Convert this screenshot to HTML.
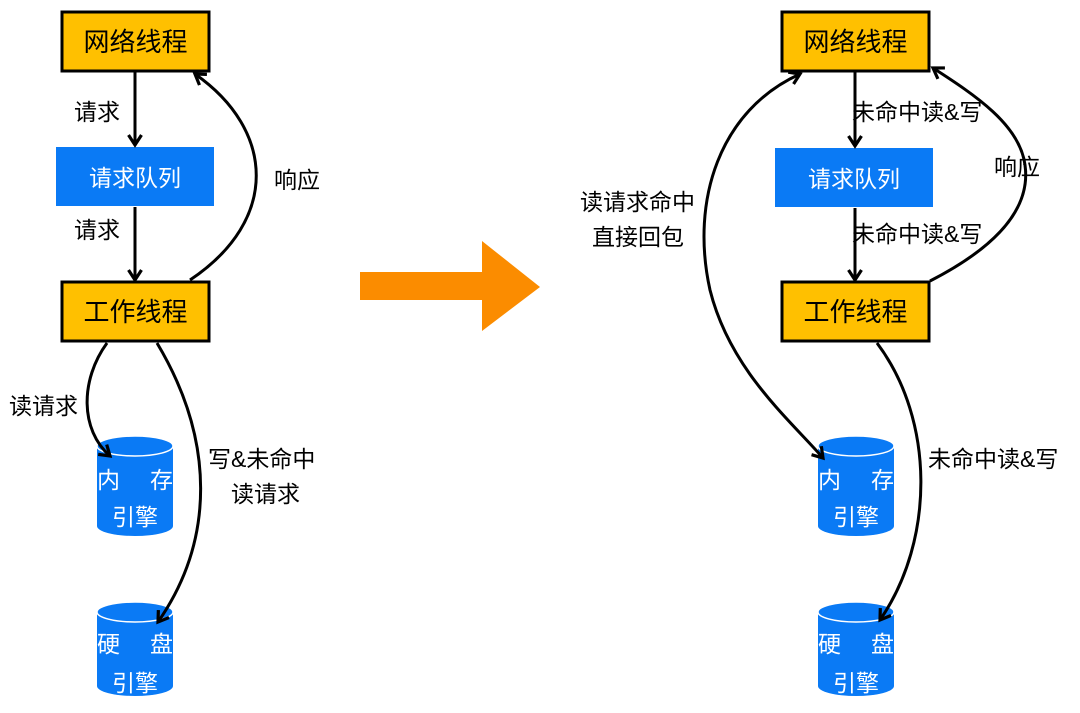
<!DOCTYPE html>
<html><head><meta charset="utf-8"><style>
html,body{margin:0;padding:0;background:#fff;}
svg{display:block;}
text{font-family:"Liberation Sans","Noto Sans CJK SC",sans-serif;}
</style></head><body>
<svg width="1080" height="713" viewBox="0 0 1080 713" xmlns="http://www.w3.org/2000/svg">
<defs>
<marker id="a" markerWidth="16" markerHeight="16" refX="12" refY="8" orient="auto" markerUnits="userSpaceOnUse">
<path d="M2,1.5 L12,8 L2,14.5" fill="none" stroke="#000" stroke-width="3.2"/>
</marker>
<marker id="s" markerWidth="16" markerHeight="16" refX="4" refY="8" orient="auto" markerUnits="userSpaceOnUse">
<path d="M14,1.5 L4,8 L14,14.5" fill="none" stroke="#000" stroke-width="3.2"/>
</marker>
</defs>
<rect x="62" y="12" width="147" height="59" fill="#ffc000" stroke="#000" stroke-width="3"/>
<text x="135.5" y="51" font-size="26" text-anchor="middle">网络线程</text>
<rect x="56" y="147" width="158" height="59" fill="#0a7af5"/>
<text x="135" y="186" font-size="23" fill="#fff" text-anchor="middle">请求队列</text>
<rect x="62" y="282" width="147" height="59" fill="#ffc000" stroke="#000" stroke-width="3"/>
<text x="135.5" y="321" font-size="26" text-anchor="middle">工作线程</text>
<path d="M97,446 L97,526 A38,10 0 0 0 173,526 L173,446 Z" fill="#0a7af5"/>
<ellipse cx="135" cy="446" rx="38" ry="10" fill="#0a7af5" stroke="#fff" stroke-width="1.5"/>
<text x="97" y="488" font-size="23" fill="#fff">内</text><text x="150" y="488" font-size="23" fill="#fff">存</text>
<text x="135" y="525" font-size="23" fill="#fff" text-anchor="middle">引擎</text>
<path d="M97,612 L97,686 A38,10 0 0 0 173,686 L173,612 Z" fill="#0a7af5"/>
<ellipse cx="135" cy="612" rx="38" ry="10" fill="#0a7af5" stroke="#fff" stroke-width="1.5"/>
<text x="97" y="652" font-size="23" fill="#fff">硬</text><text x="150" y="652" font-size="23" fill="#fff">盘</text>
<text x="135" y="691" font-size="23" fill="#fff" text-anchor="middle">引擎</text>
<g fill="none" stroke="#000" stroke-width="3">
<line x1="135" y1="72" x2="135" y2="145" marker-end="url(#a)"/>
<line x1="135" y1="207" x2="135" y2="280" marker-end="url(#a)"/>
<path d="M190,280 C280,220 275,130 195,74" marker-end="url(#a)"/>
<path d="M107,343 C80,380 80,430 110,456" marker-end="url(#a)"/>
<path d="M157,343 C215,440 215,540 158,622" marker-end="url(#a)"/>
</g>
<g font-size="23">
<text x="74" y="120">请求</text>
<text x="74" y="238">请求</text>
<text x="274" y="188">响应</text>
<text x="9" y="414">读请求</text>
<text x="208" y="467">写&amp;未命中</text>
<text x="231" y="502">读请求</text>
</g>
<polygon points="360,272 482,272 482,241 540,287 482,331 482,300 360,300" fill="#fb8c00"/>
<rect x="782" y="12" width="147" height="59" fill="#ffc000" stroke="#000" stroke-width="3"/>
<text x="855.5" y="51" font-size="26" text-anchor="middle">网络线程</text>
<rect x="775" y="148" width="158" height="59" fill="#0a7af5"/>
<text x="854" y="187" font-size="23" fill="#fff" text-anchor="middle">请求队列</text>
<rect x="782" y="282" width="147" height="59" fill="#ffc000" stroke="#000" stroke-width="3"/>
<text x="855.5" y="321" font-size="26" text-anchor="middle">工作线程</text>
<path d="M818,446 L818,526 A38,10 0 0 0 894,526 L894,446 Z" fill="#0a7af5"/>
<ellipse cx="856" cy="446" rx="38" ry="10" fill="#0a7af5" stroke="#fff" stroke-width="1.5"/>
<text x="818" y="488" font-size="23" fill="#fff">内</text><text x="871" y="488" font-size="23" fill="#fff">存</text>
<text x="856" y="525" font-size="23" fill="#fff" text-anchor="middle">引擎</text>
<path d="M818,612 L818,686 A38,10 0 0 0 894,686 L894,612 Z" fill="#0a7af5"/>
<ellipse cx="856" cy="612" rx="38" ry="10" fill="#0a7af5" stroke="#fff" stroke-width="1.5"/>
<text x="818" y="652" font-size="23" fill="#fff">硬</text><text x="871" y="652" font-size="23" fill="#fff">盘</text>
<text x="856" y="691" font-size="23" fill="#fff" text-anchor="middle">引擎</text>
<g fill="none" stroke="#000" stroke-width="3">
<line x1="855" y1="72" x2="855" y2="146" marker-end="url(#a)"/>
<line x1="855" y1="208" x2="855" y2="280" marker-end="url(#a)"/>
<path d="M930,281 C1010,240 1030,200 1025,165 C1020,125 975,95 933,68" marker-end="url(#a)"/>
<path d="M800,74 C720,110 690,200 710,290 C730,370 790,420 823,458" marker-start="url(#s)" marker-end="url(#a)"/>
<path d="M877,343 C935,420 935,540 880,620" marker-end="url(#a)"/>
</g>
<g font-size="23">
<text x="852" y="120">未命中读&amp;写</text>
<text x="852" y="242">未命中读&amp;写</text>
<text x="994" y="175">响应</text>
<text x="580" y="210">读请求命中</text>
<text x="592" y="245">直接回包</text>
<text x="928" y="467">未命中读&amp;写</text>
</g>
</svg>
</body></html>
